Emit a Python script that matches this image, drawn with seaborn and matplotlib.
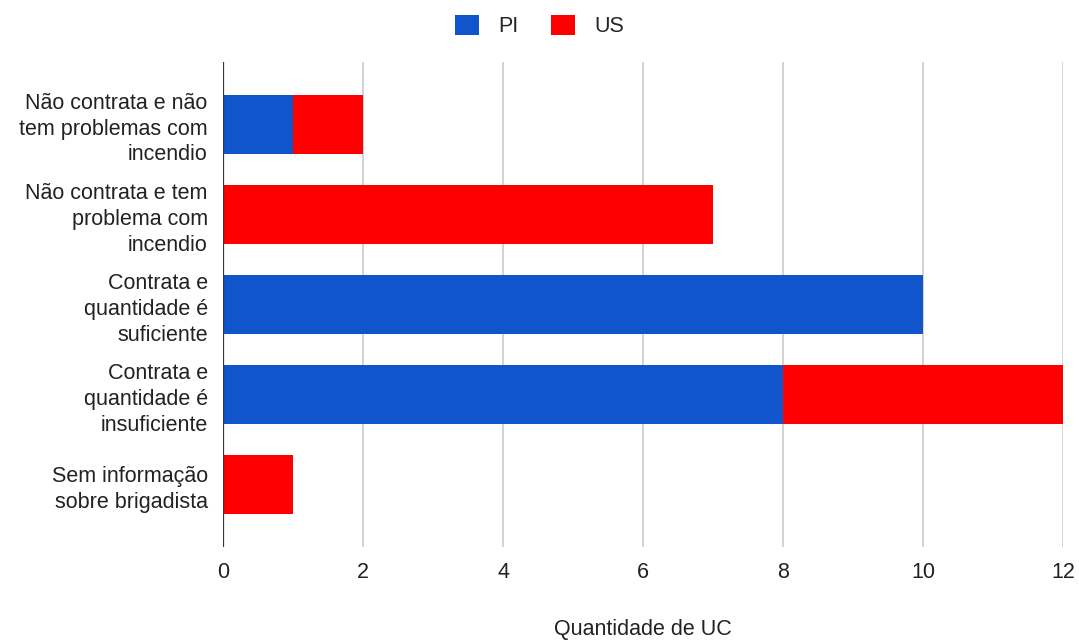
import matplotlib
matplotlib.use("Agg")
import matplotlib.pyplot as plt
import seaborn as sns
import pandas as pd
from matplotlib.patches import Patch

categorias = [
    "Não contrata e não\ntem problemas com\nincendio",
    "Não contrata e tem\nproblema com\nincendio",
    "Contrata e\nquantidade é\nsuficiente",
    "Contrata e\nquantidade é\ninsuficiente",
    "Sem informação\nsobre brigadista",
]
pi_valores = [1, 0, 10, 8, 0]
us_valores = [1, 7, 0, 4, 1]
series = ["PI", "US"]
cores = {"PI": "#1155cc", "US": "#ff0000"}
ticks_x = [0, 2, 4, 6, 8, 10, 12]

df = pd.DataFrame({"categoria": categorias, "PI": pi_valores, "US": us_valores})
df["total"] = df["PI"] + df["US"]

sns.set_theme(style="white")
plt.rcParams["font.family"] = ["Liberation Sans", "DejaVu Sans"]
FS = 15.5

fig = plt.figure(figsize=(10.79, 6.41), dpi=100)
ax = fig.add_axes([223 / 1079, 94 / 641, 840 / 1079, 485 / 641])

# stacked bars: total (US on the right) underneath, PI drawn over it
sns.barplot(data=df, y="categoria", x="total", color=cores["US"], orient="h",
            width=0.655, ax=ax, saturation=1, linewidth=0)
sns.barplot(data=df, y="categoria", x="PI", color=cores["PI"], orient="h",
            width=0.655, ax=ax, saturation=1, linewidth=0)

ax.set_xlim(0, 12)
ax.set_ylim(4.69, -0.69)
ax.set_xticks(ticks_x)
ax.set_xticklabels([str(t) for t in ticks_x], fontsize=FS, color="#222222")
ax.tick_params(axis="y", labelsize=FS, labelcolor="#222222", length=0, pad=11)
ax.tick_params(axis="x", length=0, pad=11)
for lbl in ax.get_yticklabels():
    lbl.set_horizontalalignment("right")
    lbl.set_multialignment("right")
    lbl.set_linespacing(1.3)

for t in ticks_x[1:]:
    ax.axvline(t, color="#cccccc", linewidth=1.2, zorder=0)
ax.axvline(0, color="#333333", linewidth=1.6, zorder=3)
for s in ax.spines.values():
    s.set_visible(False)

ax.set_ylabel("")
ax.set_xlabel("Quantidade de UC", fontsize=FS, color="#222222", labelpad=26)

handles = [Patch(facecolor=cores[s], edgecolor="none", label=s) for s in series]
fig.legend(handles=handles, loc="center", bbox_to_anchor=(0.5, 1 - 26 / 641),
           ncol=2, frameon=False, fontsize=FS, handlelength=1.1,
           handleheight=1.1, handletextpad=0.9, columnspacing=1.5)

fig.savefig("out.png", dpi=100, facecolor="white")
